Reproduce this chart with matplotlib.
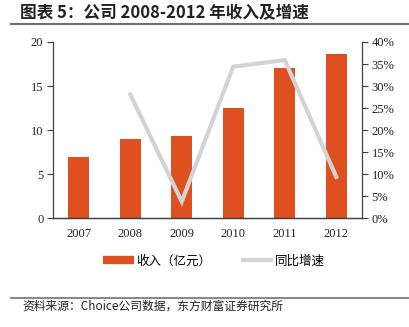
import matplotlib
matplotlib.use("Agg")
import matplotlib.pyplot as plt
from matplotlib.lines import Line2D
from matplotlib.ticker import PercentFormatter

plt.rcParams['font.family'] = ['Noto Sans CJK SC', 'DejaVu Sans']

# %% data
years = ["2007", "2008", "2009", "2010", "2011", "2012"]
revenue = [7.0, 9.0, 9.3, 12.5, 17.0, 18.6]          # 亿元
growth_years = ["2008", "2009", "2010", "2011", "2012"]
growth = [28.1, 3.8, 34.4, 35.9, 9.4]                # %

bar_color = "#DE5020"
line_color = "#D3D3D3"
spine_color = "#404040"
serif = "Liberation Serif"

# %% plot
W, H = 410, 327
fig = plt.figure(figsize=(W / 100, H / 100), dpi=100)
ax = fig.add_axes([53 / W, (H - 218.3) / H, 309 / W, 176.3 / H])
ax2 = ax.twinx()

x = range(len(years))
ax.bar(x, revenue, width=0.4, color=bar_color, zorder=2)
gx = [years.index(y) for y in growth_years]
ax2.plot(gx, growth, color=line_color, lw=3, solid_joinstyle="miter", zorder=3)

ax.set_xlim(-0.5, len(years) - 0.5)
ax.set_ylim(0, 20)
ax.set_yticks([0, 5, 10, 15, 20])
ax2.set_ylim(0, 40)
ax2.set_yticks(range(0, 41, 5))
ax2.yaxis.set_major_formatter(PercentFormatter(decimals=0))

ax.set_xticks(list(x))
ax.set_xticklabels(years)

for a in (ax, ax2):
    a.spines["top"].set_visible(False)
    for s in ("left", "right", "bottom"):
        a.spines[s].set_color(spine_color)
        a.spines[s].set_linewidth(0.9)
    a.tick_params(axis="y", length=4, width=0.8, color=spine_color,
                  labelsize=9, labelcolor="#222222", pad=3)
    for lab in a.get_yticklabels():
        lab.set_fontfamily(serif)
ax.tick_params(axis="x", length=0, labelsize=9, labelcolor="#222222", pad=7)
for lab in ax.get_xticklabels():
    lab.set_fontfamily(serif)
ax2.spines["left"].set_visible(False)
ax.spines["right"].set_visible(False)

# legend
handles = [Line2D([], [], color=bar_color, lw=6, solid_capstyle="butt"),
           Line2D([], [], color=line_color, lw=3, solid_capstyle="butt")]
fig.legend(handles, ["收入（亿元）", "同比增速"], loc="center",
           bbox_to_anchor=(214 / W, 1 - 261 / H), ncol=2, frameon=False,
           fontsize=9, handlelength=2.5, handletextpad=0.2, columnspacing=2.4)

# title and source
fig.text(20 / W, 1 - 13 / H, "图表 5：公司 2008-2012 年收入及增速",
         fontsize=12, fontweight="bold", color="#222222", va="center", ha="left")
fig.add_artist(Line2D([11 / W, 1], [1 - 23.5 / H] * 2, color="#6E6E6E", lw=1.5))
fig.add_artist(Line2D([11 / W, 1], [1 - 298 / H] * 2, color="#8A8A8A", lw=1.5))
fig.text(22 / W, 1 - 306 / H, "资料来源：Choice公司数据，东方财富证券研究所",
         fontsize=8.5, color="#222222", va="center", ha="left")

fig.savefig("out.png", dpi=100)
